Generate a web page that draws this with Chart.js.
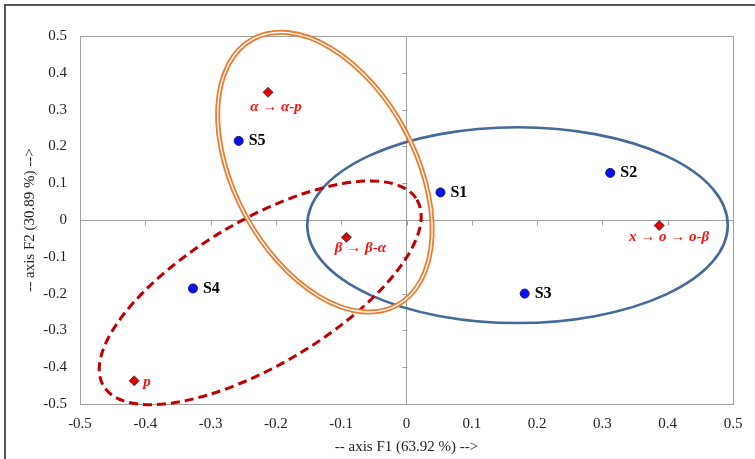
<!DOCTYPE html>
<html>
<head>
<meta charset="utf-8">
<script src="https://cdn.jsdelivr.net/npm/chart.js@4"></script>
<style>
  html, body { margin: 0; padding: 0; background: #fff; overflow: hidden; }
  canvas { display: block; }
</style>
</head>
<body>
<canvas id="PcaChart" width="755" height="459"></canvas>
<script>
// samples (blue dots)
const sampleNames = ["S1", "S2", "S3", "S4", "S5"];
const sampleF1 = [0.052, 0.312, 0.181, -0.327, -0.257];
const sampleF2 = [0.075, 0.128, -0.2, -0.186, 0.215];

// transformation paths (red diamonds)
const pathNames = ["α → α-p", "β → β-α", "x → o → o-β", "p"];
const pathF1 = [-0.212, -0.092, 0.387, -0.417];
const pathF2 = [0.347, -0.047, -0.015, -0.437];

// tick labels, same for both axes
const tickValues = [-0.5, -0.4, -0.3, -0.2, -0.1, 0, 0.1, 0.2, 0.3, 0.4, 0.5];

// groups: centre and two conjugate half axes, in axis units
const groupCenters = [[0.17, -0.014], [-0.125, 0.13], [-0.224, -0.198]];
const groupAxisA = [[0.322, 0], [0.11, -0.362], [0.24, 0.253]];
const groupAxisB = [[0, 0.266], [-0.122, -0.116], [0.0565, -0.1685]];

const serif = "'Liberation Serif', 'Times New Roman', serif";
const axisGrey = "#a0a0a0";

// label placement (pixels from the marker)
const sampleLabelStyle = { dx: 10, dy: 0, align: "left" };
const pathLabelStyle = [
  { dx: 8, dy: 15, align: "center" },
  { dx: 14, dy: 11, align: "center" },
  { dx: 10, dy: 12, align: "center" },
  { dx: 9, dy: 1, align: "left" },
];

function ellipsePath(ctx, xs, ys, c, a, b) {
  const cx = xs.getPixelForValue(c[0]);
  const cy = ys.getPixelForValue(c[1]);
  const ax = xs.getPixelForValue(c[0] + a[0]) - cx;
  const ay = ys.getPixelForValue(c[1] + a[1]) - cy;
  const bx = xs.getPixelForValue(c[0] + b[0]) - cx;
  const by = ys.getPixelForValue(c[1] + b[1]) - cy;
  ctx.save();
  ctx.beginPath();
  ctx.transform(ax, ay, bx, by, cx, cy);
  ctx.arc(0, 0, 1, 0, Math.PI * 2);
  ctx.restore();
}

const backgroundAndFrame = {
  id: "backgroundAndFrame",
  beforeDraw(chart) {
    const ctx = chart.ctx;
    ctx.save();
    ctx.fillStyle = "#fff";
    ctx.fillRect(0, 0, chart.width, chart.height);
    // picture border (only left/top are in view)
    ctx.strokeStyle = "#555";
    ctx.lineWidth = 2;
    ctx.strokeRect(5, 5, chart.width + 20, chart.height + 20);
    ctx.restore();
  },
  beforeDatasetsDraw(chart) {
    const ctx = chart.ctx;
    const a = chart.chartArea;
    const xs = chart.scales.x;
    const ys = chart.scales.y;
    const x0 = Math.round(xs.getPixelForValue(0)) + 0.5;
    const y0 = Math.round(ys.getPixelForValue(0)) + 0.5;
    ctx.save();
    ctx.strokeStyle = axisGrey;
    ctx.lineWidth = 1;
    ctx.strokeRect(a.left + 0.5, a.top + 0.5, a.right - a.left, a.bottom - a.top);
    ctx.beginPath();
    tickValues.forEach((v) => {
      const px = Math.round(xs.getPixelForValue(v)) + 0.5;
      ctx.moveTo(px, y0);
      ctx.lineTo(px, y0 + 5);
      const py = Math.round(ys.getPixelForValue(v)) + 0.5;
      ctx.moveTo(x0 - 5, py);
      ctx.lineTo(x0, py);
    });
    ctx.stroke();

    // blue group
    ellipsePath(ctx, xs, ys, groupCenters[0], groupAxisA[0], groupAxisB[0]);
    ctx.strokeStyle = "#44699a";
    ctx.lineWidth = 2.6;
    ctx.stroke();
    // red dashed group
    ellipsePath(ctx, xs, ys, groupCenters[2], groupAxisA[2], groupAxisB[2]);
    ctx.setLineDash([9, 5]);
    ctx.strokeStyle = "#c00000";
    ctx.lineWidth = 3;
    ctx.stroke();
    ctx.setLineDash([]);
    // orange double line group
    ellipsePath(ctx, xs, ys, groupCenters[1], groupAxisA[1], groupAxisB[1]);
    ctx.strokeStyle = "#ec7c30";
    ctx.lineWidth = 5;
    ctx.stroke();
    ctx.strokeStyle = "#fff";
    ctx.lineWidth = 1.4;
    ctx.stroke();
    ctx.restore();
  },
  afterDatasetsDraw(chart) {
    const ctx = chart.ctx;
    ctx.save();
    ctx.textBaseline = "middle";
    const sampleMeta = chart.getDatasetMeta(0);
    ctx.fillStyle = "#000";
    ctx.font = "bold 16px " + serif;
    ctx.textAlign = sampleLabelStyle.align;
    sampleMeta.data.forEach((pt, i) => {
      ctx.fillText(sampleNames[i], pt.x + sampleLabelStyle.dx, pt.y + sampleLabelStyle.dy);
    });
    const pathMeta = chart.getDatasetMeta(1);
    ctx.fillStyle = "#ff1010";
    ctx.font = "italic bold 15px " + serif;
    pathMeta.data.forEach((pt, i) => {
      const st = pathLabelStyle[i];
      ctx.textAlign = st.align;
      ctx.fillText(pathNames[i], pt.x + st.dx, pt.y + st.dy);
    });
    ctx.restore();
  },
};

const isZero = (c) => c.tick && Math.abs(c.tick.value) < 1e-9;
const fmt = (v) => String(Number(v.toFixed(1)));

new Chart(document.getElementById("PcaChart"), {
  type: "scatter",
  data: {
    datasets: [
      {
        label: "samples",
        data: sampleF1.map((x, i) => ({ x: x, y: sampleF2[i] })),
        pointStyle: "circle",
        pointRadius: 4.5,
        backgroundColor: "#0010ff",
        borderColor: "#1a1a60",
        borderWidth: 1,
      },
      {
        label: "paths",
        data: pathF1.map((x, i) => ({ x: x, y: pathF2[i] })),
        pointStyle: "rectRot",
        pointRadius: 5,
        backgroundColor: "#e00000",
        borderColor: "#444",
        borderWidth: 1,
      },
    ],
  },
  options: {
    responsive: false,
    animation: false,
    devicePixelRatio: 1,
    layout: { padding: { top: 36, right: 22, left: 0, bottom: 0 } },
    plugins: { legend: { display: false }, tooltip: { enabled: false } },
    scales: {
      x: {
        type: "linear",
        position: "bottom",
        min: -0.5,
        max: 0.5,
        afterBuildTicks: (s) => { s.ticks = tickValues.map((v) => ({ value: v })); },
        afterFit: (s) => { s.height = 55; },
        border: { display: false },
        grid: { drawTicks: false, color: (c) => (isZero(c) ? axisGrey : "rgba(0,0,0,0)"), lineWidth: 1 },
        ticks: { padding: 11, autoSkip: false, maxRotation: 0, color: "#222", font: { family: serif, size: 15 }, callback: fmt },
        title: { display: true, text: "-- axis F1 (63.92 %) -->", color: "#222", font: { family: serif, size: 15 }, padding: { top: 0, bottom: 3 } },
      },
      y: {
        type: "linear",
        position: "left",
        min: -0.5,
        max: 0.5,
        afterBuildTicks: (s) => { s.ticks = tickValues.map((v) => ({ value: v })); },
        afterFit: (s) => { s.width = 80; },
        border: { display: false },
        grid: { drawTicks: false, color: (c) => (isZero(c) ? axisGrey : "rgba(0,0,0,0)"), lineWidth: 1 },
        ticks: { padding: 13, autoSkip: false, color: "#222", font: { family: serif, size: 15 }, callback: fmt },
        title: { display: true, text: "-- axis F2 (30.89 %) -->", color: "#222", font: { family: serif, size: 15 }, padding: { top: 21, bottom: 0 } },
      },
    },
  },
  plugins: [backgroundAndFrame],
});
</script>
</body>
</html>
